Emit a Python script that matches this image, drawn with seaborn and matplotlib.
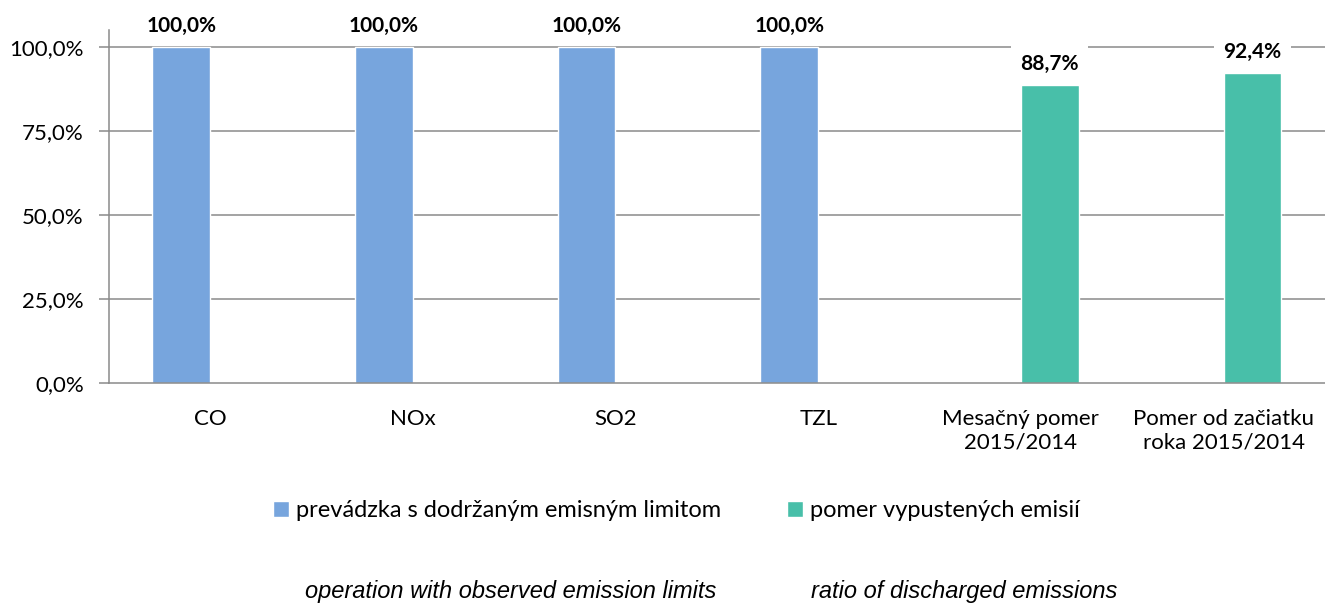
import matplotlib
matplotlib.use("Agg")
import matplotlib.pyplot as plt
import seaborn as sns
import pandas as pd

# data
categories = ["CO", "NOx", "SO2", "TZL", "Mesačný pomer\n2015/2014", "Pomer od začiatku\nroka 2015/2014"]
series_names = ["prevádzka s dodržaným emisným limitom", "pomer vypustených emisií"]
limit_values = [1.0, 1.0, 1.0, 1.0]
ratio_values = [0.887, 0.924]
ytick_vals = [0.0, 0.25, 0.5, 0.75, 1.0]
ytick_labels = ["0,0%", "25,0%", "50,0%", "75,0%", "100,0%"]
english_notes = ["operation with observed emission limits", "ratio of discharged emissions"]

df = pd.DataFrame({
    "category": categories[:4] + categories[4:],
    "value": limit_values + ratio_values,
    "series": [series_names[0]] * 4 + [series_names[1]] * 2,
})

sns.set_style("white")
plt.rcParams["font.family"] = ["Lato", "DejaVu Sans"]
plt.rcParams["text.color"] = "black"
plt.rcParams["xtick.color"] = "black"
plt.rcParams["ytick.color"] = "black"

fig = plt.figure(figsize=(13.25, 6.04), dpi=100)
ax = fig.add_axes([0.082, 0.366, 0.918, 0.584])

grid_col = "#8a8a8a"
for v in ytick_vals[1:]:
    ax.axhline(v, color=grid_col, lw=1.1, zorder=0)

sns.barplot(data=df, x="category", y="value", hue="series", order=categories,
            hue_order=series_names, palette=["#77A5DD", "#48BFA9"],
            width=0.57, saturation=1, dodge=True, ax=ax, zorder=2, legend=True)

# data labels (white box hides the gridline behind them)
for cont in ax.containers:
    for bar in cont:
        h = bar.get_height()
        if pd.isna(h) or h == 0:
            continue
        txt = f"{h*100:.1f}%".replace(".", ",")
        ax.annotate(txt, (bar.get_x() + bar.get_width() / 2, h), xytext=(0, 15),
                    textcoords="offset points", ha="center", va="center",
                    fontsize=15, fontweight="bold", zorder=5,
                    bbox=dict(boxstyle="square,pad=0.45", fc="white", ec="none"))

ax.set_xlim(-0.5, 5.5)
ax.set_ylim(0, 1.05)
ax.set_yticks(ytick_vals)
ax.set_yticklabels(ytick_labels, fontsize=16)
ax.set_xticks(range(6))
ax.set_xticklabels(categories, fontsize=16)
ax.set_xticks([i - 0.5 for i in range(7)], minor=True)
ax.tick_params(axis="x", which="major", length=0, pad=19)
ax.tick_params(axis="x", which="minor", length=6, color=grid_col, width=1.1, direction="out")
ax.tick_params(axis="y", length=7, color=grid_col, labelcolor="black", width=1.1,
               direction="out", pad=11, left=True)
ax.set_xlabel("")
ax.set_ylabel("")

for s in ["top", "right"]:
    ax.spines[s].set_visible(False)
for s in ["left", "bottom"]:
    ax.spines[s].set_color(grid_col)
    ax.spines[s].set_linewidth(1.1)

handles, labels = ax.get_legend_handles_labels()
ax.get_legend().remove()
fig.legend(handles, labels, loc="center", bbox_to_anchor=(0.5106, 0.154), ncol=2,
           frameon=False, fontsize=17, handlelength=0.68, handleheight=0.68,
           handletextpad=0.3, columnspacing=2.8)

fig.text(0.3856, 0.02, english_notes[0], ha="center", va="center", fontsize=17,
         style="italic", family="Liberation Sans")
fig.text(0.7276, 0.02, english_notes[1], ha="center", va="center", fontsize=17,
         style="italic", family="Liberation Sans")

fig.savefig("out.png", dpi=100)
